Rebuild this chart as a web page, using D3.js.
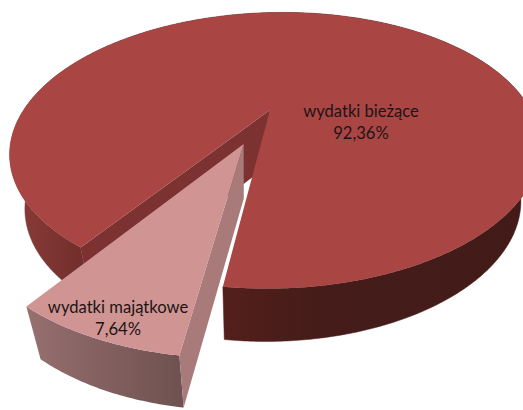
<!DOCTYPE html>
<html>
<head>
<meta charset="utf-8">
<script src="https://cdn.jsdelivr.net/npm/d3@7"></script>
<style>
html, body { margin: 0; padding: 0; background: #fff; }
svg { display: block; }
text { font-family: Lato, "Open Sans", sans-serif; font-size: 16.6px; fill: #1c1414; text-anchor: middle; }
</style>
</head>
<body>
<div id="chart"></div>
<script>
var categories = ["wydatki bieżące", "wydatki majątkowe"];
var values = [92.36, 7.64];

function init()
{
    const width = 523;
    const height = 410;

    // perspective of the disc plane, unit radius, apex at (cx, cy)
    const cx = 270, cy = 110, persp = 0.2945, kx = 253, ky = 125.6, shear = 15, tilt = -12;
    const depthX = 245, depthShrink = 0.065, depthY = 55;
    const explode = 0.265;

    function top(X, Y) {
        var w = 1 - persp * Y;
        return [cx + (kx * X + shear * Y) / w, cy + (ky * Y + tilt * X) / w];
    }
    // same point on the bottom face of the pie
    function bottom(p) {
        return [p[0] + (depthX - p[0]) * depthShrink, p[1] + depthY - (p[1] - cy) * 0.012];
    }

    var pie = d3.pie().sort(null)
        .startAngle(218.5 * Math.PI / 180)
        .endAngle((218.5 + 360) * Math.PI / 180);
    var slices = pie(values);

    function rimPoints(d, ox, oy) {
        var n = Math.ceil((d.endAngle - d.startAngle) / 0.01);
        return d3.range(n + 1).map(function (i) {
            var a = d.startAngle + (d.endAngle - d.startAngle) * i / n;
            return top(ox + Math.sin(a), oy - Math.cos(a));
        });
    }

    var line = d3.line().curve(d3.curveLinear);
    var closed = function (pts) { return line(pts) + "Z"; };

    var svg = d3.select("#chart")
        .append("svg")
        .attr("width", width)
        .attr("height", height);

    var defs = svg.append("defs");
    function gradient(id, stops) {
        var g = defs.append("linearGradient")
            .attr("id", id)
            .attr("gradientUnits", "userSpaceOnUse")
            .attr("x1", 0).attr("x2", width).attr("y1", 0).attr("y2", 0);
        stops.forEach(function (s) {
            g.append("stop").attr("offset", s[0]).attr("stop-color", s[1]);
        });
    }
    gradient("bigRim", [[0.02, "#8c3d3a"], [0.17, "#6f2d2b"], [0.3, "#6a2a28"], [0.42, "#541f1c"], [0.6, "#451c19"], [1, "#421b18"]]);
    gradient("smallRim", [[0.06, "#966e6e"], [0.35, "#6e5150"]]);

    // big slice
    var big = slices[0];
    var bigRim = rimPoints(big, 0, 0);
    var apex = top(0, 0);
    var big3d = svg.append("g").attr("class", "big");
    big3d.append("path")
        .attr("d", closed(bigRim.concat(bigRim.map(bottom).reverse())))
        .attr("fill", "url(#bigRim)")
        .attr("stroke", "url(#bigRim)")
        .attr("stroke-width", 0.5);
    big3d.append("path")
        .attr("d", closed([apex, bigRim[0], bottom(bigRim[0]), bottom(apex)]))
        .attr("fill", "#7b3231");
    big3d.append("path")
        .attr("d", closed([apex].concat(bigRim)))
        .attr("fill", "#a94644");

    // small slice, pulled out of the pie
    var small = slices[1];
    var mid = (small.startAngle + small.endAngle) / 2;
    var ox = explode * Math.sin(mid), oy = -explode * Math.cos(mid);
    var smallRim = rimPoints(small, ox, oy);
    var smallApex = top(ox, oy);
    var small3d = svg.append("g").attr("class", "small");
    small3d.append("path")
        .attr("d", closed(smallRim.concat(smallRim.map(bottom).reverse())))
        .attr("fill", "url(#smallRim)");
    small3d.append("path")
        .attr("d", closed([smallApex, smallRim[0], bottom(smallRim[0]), bottom(smallApex)]))
        .attr("fill", "#a87a7a");
    small3d.append("path")
        .attr("d", closed([smallApex].concat(smallRim)))
        .attr("fill", "#d09493");

    // labels
    var labelAt = [[361, 117], [118, 313]];
    var labels = svg.selectAll("g.label")
        .data(categories)
        .enter()
        .append("g")
        .attr("class", "label")
        .attr("transform", function (d, i) {
            return "translate(" + labelAt[i][0] + "," + labelAt[i][1] + ")";
        });
    labels.append("text").text(function (d) { return d; });
    labels.append("text")
        .attr("y", 22)
        .text(function (d, i) { return String(values[i]).replace(".", ",") + "%"; });
}

init();
</script>
</body>
</html>
